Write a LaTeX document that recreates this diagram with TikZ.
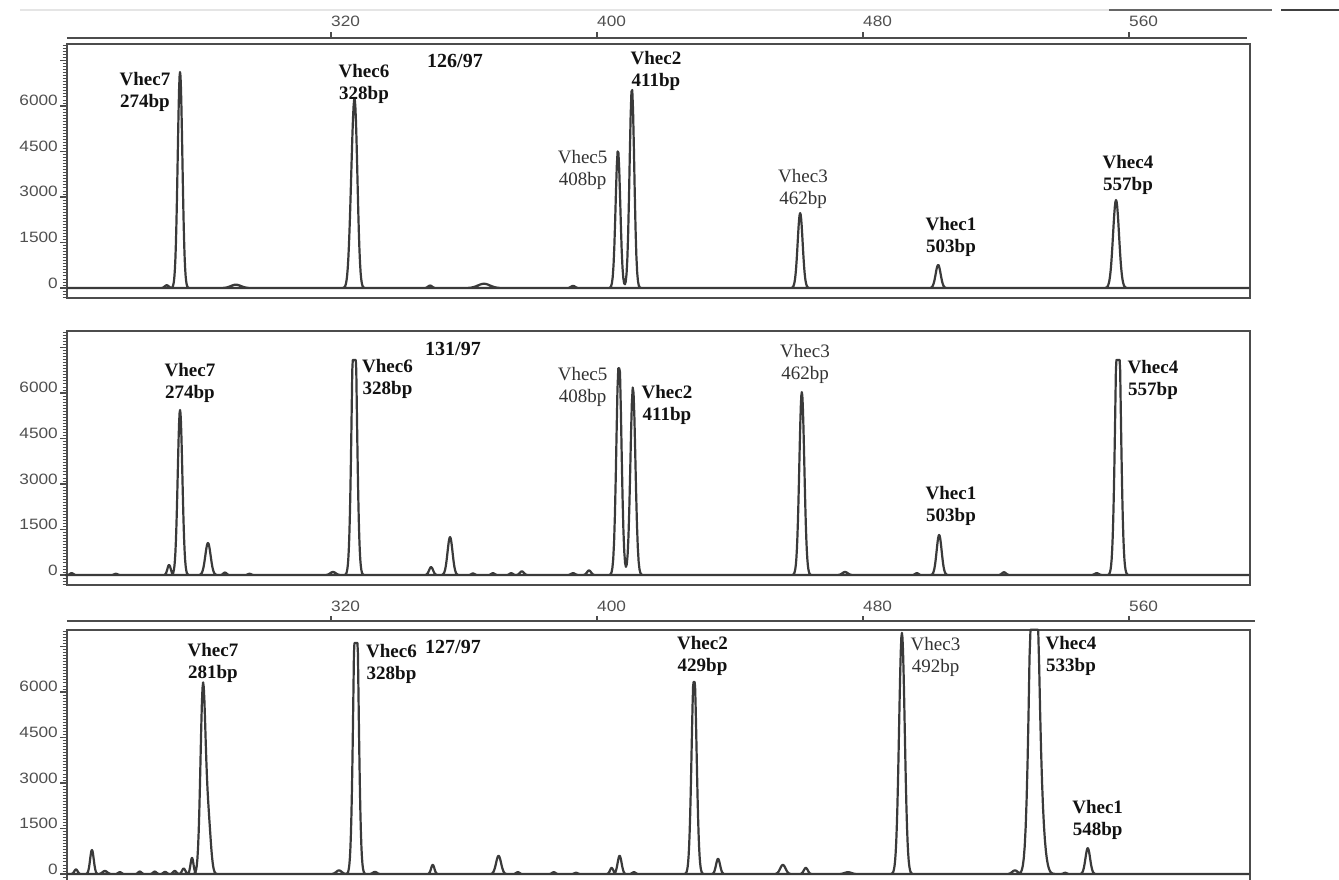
\documentclass[tikz,border=0pt]{standalone}
\usepackage{fontspec}
\setmainfont{Liberation Serif}
\newfontfamily\axisfont{Liberation Sans}
\definecolor{tracegray}{HTML}{3A3A3A}
\definecolor{framegray}{HTML}{4C4C4C}
\definecolor{labgray}{HTML}{505050}
\definecolor{inkblack}{HTML}{121212}
\definecolor{inkgray}{HTML}{333333}
\tikzset{
  declare function={pk(\p,\m,\s,\a)=\a*exp(-0.5*(min(abs((\p-\m)/\s),4.2))^2);},
  trace/.style={draw=tracegray, line width=2.2pt, line join=round},
  frame/.style={draw=framegray, line width=2.6pt},
  minortick/.style={draw=framegray, line width=0.8pt},
  majortick/.style={draw=framegray, line width=1.6pt},
  ticklab/.style={font=\axisfont\fontsize{15}{15}\selectfont, text=labgray, xscale=1.15, inner sep=0pt},
  peaklab/.style={font=\fontsize{19}{22}\selectfont\bfseries, text=inkblack, align=center, inner sep=0pt},
  thinlab/.style={peaklab, font=\fontsize{19}{22}\selectfont, text=inkgray},
  titlelab/.style={font=\fontsize{20}{22}\selectfont\bfseries, text=inkblack, inner sep=0pt, anchor=base}
}
\begin{document}
\begin{tikzpicture}[x=1pt, y=-1pt]
\useasboundingbox (0,0) rectangle (1339,880);
\clip (0,0) rectangle (1339,880);
\fill[white] (0,0) rectangle (1339,880);
% scan edge at the top
\draw[draw=black!10, line width=1.5pt] (20,10) -- (1109,10);
\draw[draw=black!60, line width=1.5pt] (1109,10) -- (1272,10);
\draw[draw=black!75, line width=2pt] (1281,10) -- (1339,10);

% ---- 126/97
\begin{scope}[shift={(-733,288)}, x=3.325pt, y=0.030333pt]
  \draw[frame] (240.6,-330) rectangle (596.4,8050);
  \draw[frame] (240.6,8242) -- (595.5,8242);
  \foreach \b in {320,400,480,560} {
    \draw[majortick] (\b,8242) -- (\b,8440);
    \node[ticklab, anchor=base west] at (\b,8605) {\b};
  }
  \foreach \v in {-300,-200,...,8000} \draw[minortick] (239.3,\v) -- (240.6,\v);
  \foreach \v in {0,1500,...,7500} \draw[majortick] (238.5,\v) -- (240.6,\v);
  \foreach \v in {0,1500,...,6000} \node[ticklab, anchor=base east] at (237.9,\v) {\v};
  \draw[trace] (240.6,0) -- (596.2,0)
    \foreach \c/\w/\h/\d/\g/\t in {270.6/0.6/90/0/0/9000, 274.6/0.7/7120/0/0/9000,
      291.4/1.5/110/0/0/9000, 326.3/0.75/2500/1.0/5000/9000, 349.8/0.6/80/0/0/9000,
      366.0/1.8/140/0/0/9000, 392.8/0.6/70/0/0/9000, 406.3/0.7/4550/4.2/6600/9000,
      461.1/0.75/2470/0/0/9000, 502.6/0.75/760/0/0/9000, 556.1/0.9/2900/0/0/9000}
    { plot[domain=\c-4*\w:\c+\d+4*\w, samples=41] (\x,{min(\t,pk(\x,\c,\w,\h)+pk(\x,\c+\d,\w,\g))}) };
\end{scope}

% ---- 131/97
\begin{scope}[shift={(-733,575)}, x=3.325pt, y=0.030333pt]
  \draw[frame] (240.6,-330) rectangle (596.4,8050);
  \foreach \v in {-300,-200,...,8000} \draw[minortick] (239.3,\v) -- (240.6,\v);
  \foreach \v in {0,1500,...,7500} \draw[majortick] (238.5,\v) -- (240.6,\v);
  \foreach \v in {0,1500,...,6000} \node[ticklab, anchor=base east] at (237.9,\v) {\v};
  \draw[trace] (240.6,0) -- (596.2,0)
    \foreach \c/\w/\h/\d/\g/\t in {242.0/0.5/60/0/0/9000, 255.3/0.5/40/0/0/9000,
      271.3/0.5/330/0/0/9000, 274.6/0.7/5440/0/0/9000, 283.0/0.8/1055/0/0/9000,
      288.1/0.5/80/0/0/9000, 295.5/0.5/40/0/0/9000, 320.6/0.8/100/0/0/9000,
      327.0/0.75/9300/0/0/7090, 350.1/0.6/260/0/0/9000, 355.8/0.75/1250/0/0/9000,
      362.7/0.5/50/0/0/9000, 368.7/0.5/60/0/0/9000, 374.2/0.5/60/0/0/9000,
      377.4/0.6/120/0/0/9000, 392.8/0.6/60/0/0/9000, 397.6/0.6/150/0/0/9000,
      406.6/0.75/7300/4.2/6200/6820, 461.6/0.75/6030/0/0/9000, 474.6/0.8/100/0/0/9000,
      496.2/0.5/60/0/0/9000, 502.9/0.75/1320/0/0/9000, 522.4/0.6/90/0/0/9000,
      550.3/0.6/60/0/0/9000, 556.7/0.8/9300/0/0/7090}
    { plot[domain=\c-4*\w:\c+\d+4*\w, samples=41] (\x,{min(\t,pk(\x,\c,\w,\h)+pk(\x,\c+\d,\w,\g))}) };
\end{scope}

% ---- 127/97
\begin{scope}[shift={(-733,874)}, x=3.325pt, y=0.030333pt]
  \draw[frame] (240.6,-330) rectangle (596.4,8050);
  \draw[frame] (240.6,8341) -- (598,8341);
  \foreach \b in {320,400,480,560} {
    \draw[majortick] (\b,8341) -- (\b,8506);
    \node[ticklab, anchor=base west] at (\b,8638) {\b};
  }
  \foreach \v in {-300,-200,...,8000} \draw[minortick] (239.3,\v) -- (240.6,\v);
  \foreach \v in {0,1500,...,7500} \draw[majortick] (238.5,\v) -- (240.6,\v);
  \foreach \v in {0,1500,...,6000} \node[ticklab, anchor=base east] at (237.9,\v) {\v};
  \draw[trace] (240.6,0) -- (596.2,0)
    \foreach \c/\w/\h/\d/\g/\t in {243.3/0.5/150/0/0/9000, 248.1/0.55/790/0/0/9000,
      252.0/0.7/100/0/0/9000, 256.5/0.5/60/0/0/9000, 262.5/0.5/80/0/0/9000,
      267.0/0.5/80/0/0/9000, 270.1/0.5/70/0/0/9000, 273.0/0.5/100/0/0/9000,
      275.7/0.5/180/0/0/9000, 278.2/0.45/530/0/0/9000, 281.5/0.75/6130/1.6/1700/9000,
      322.4/0.8/120/0/0/9000, 327.5/0.75/10000/0/0/7616, 333.2/0.6/70/0/0/9000,
      350.6/0.5/300/0/0/9000, 370.4/0.75/600/0/0/9000, 376.2/0.5/60/0/0/9000,
      387.0/0.5/60/0/0/9000, 393.7/0.5/40/0/0/9000, 404.4/0.5/200/0/0/9000,
      406.8/0.6/600/0/0/9000, 411.1/0.5/60/0/0/9000, 429.2/0.75/6700/0/0/6330,
      436.4/0.6/500/0/0/9000, 455.9/0.8/300/0/0/9000, 462.8/0.6/200/0/0/9000,
      475.5/1.0/60/0/0/9000, 491.7/0.85/7950/0/0/9000, 525.7/0.8/120/0/0/9000,
      531.4/1.2/13000/2.0/1500/8050, 540.8/0.5/40/0/0/9000, 547.6/0.7/850/0/0/9000}
    { plot[domain=\c-4*\w:\c+\d+4*\w, samples=41] (\x,{min(\t,pk(\x,\c,\w,\h)+pk(\x,\c+\d,\w,\g))}) };
\end{scope}

% peak names
\node[titlelab] (atitle) at (455,68) {126/97};
\node[peaklab] (a7) at (145,91.5) {Vhec7\\274bp};
\node[peaklab] (a6) at (364,83.5) {Vhec6\\328bp};
\node[thinlab] (a5) at (582.6,169.5) {Vhec5\\408bp};
\node[peaklab] (a2) at (656,70.5) {Vhec2\\411bp};
\node[thinlab] (a3) at (803,188.5) {Vhec3\\462bp};
\node[peaklab] (a1) at (951,236.5) {Vhec1\\503bp};
\node[peaklab] (a4) at (1128,174.5) {Vhec4\\557bp};

\node[titlelab] (btitle) at (453,355) {131/97};
\node[peaklab] (b7) at (190,382.5) {Vhec7\\274bp};
\node[peaklab] (b6) at (387.5,379) {Vhec6\\328bp};
\node[thinlab] (b5) at (582.6,386.5) {Vhec5\\408bp};
\node[peaklab] (b2) at (667,404.5) {Vhec2\\411bp};
\node[thinlab] (b3) at (805,363.5) {Vhec3\\462bp};
\node[peaklab] (b1) at (951,505.5) {Vhec1\\503bp};
\node[peaklab] (b4) at (1153,379.5) {Vhec4\\557bp};

\node[titlelab] (ctitle) at (453,653) {127/97};
\node[peaklab] (c7) at (213,662.5) {Vhec7\\281bp};
\node[peaklab] (c6) at (391.5,663.5) {Vhec6\\328bp};
\node[peaklab] (c2) at (702.5,655.5) {Vhec2\\429bp};
\node[thinlab] (c3) at (935.5,656.5) {Vhec3\\492bp};
\node[peaklab] (c4) at (1071,655.5) {Vhec4\\533bp};
\node[peaklab] (c1) at (1097.6,819.5) {Vhec1\\548bp};
\end{tikzpicture}
\end{document}
